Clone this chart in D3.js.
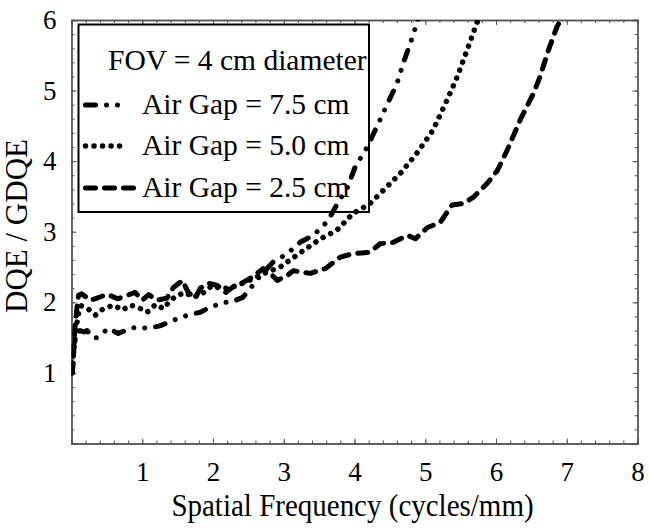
<!DOCTYPE html>
<html>
<head>
<meta charset="utf-8">
<script src="https://cdn.jsdelivr.net/npm/d3@7"></script>
<style>
  html, body { margin: 0; padding: 0; background: #fff; }
  svg { display: block; }
</style>
</head>
<body>
<svg id="chart" width="649" height="532"></svg>
<script>
// ---- data ----
const xTickLabels = ["1", "2", "3", "4", "5", "6", "7", "8"];
const yTickLabels = ["1", "2", "3", "4", "5", "6"];
const seriesNames = ["Air Gap = 7.5 cm", "Air Gap = 5.0 cm", "Air Gap = 2.5 cm"];
const legendTitle = "FOV = 4 cm diameter";
const xTitle = "Spatial Frequency (cycles/mm)";
const yTitle = "DQE / GDQE";

const freq75 = [0.01,0.03,0.05,0.08,0.12,0.18,0.22,0.3,0.36,0.52,0.66,0.83,0.94,1.09,1.26,1.5,1.65,1.82,1.96,2.15,2.25,2.42,2.53,2.67,2.85,3.05,3.23,3.42,3.62,3.76,3.9,4.01,4.18,4.32,4.46,4.6,4.69,4.82,4.91];
const dqe75  = [1.0,1.25,1.45,1.55,1.6,1.58,1.6,1.5,1.5,1.63,1.56,1.63,1.65,1.63,1.67,1.77,1.82,1.86,1.93,2.0,2.0,2.07,2.2,2.38,2.57,2.69,2.85,2.95,3.15,3.4,3.63,3.92,4.2,4.5,4.8,5.1,5.39,5.76,6.05];

const freq50 = [0.01,0.03,0.06,0.1,0.14,0.2,0.27,0.34,0.45,0.6,0.72,0.83,0.94,1.07,1.19,1.3,1.4,1.5,1.61,1.72,1.86,1.99,2.1,2.22,2.45,2.7,2.95,3.23,3.52,3.75,3.98,4.22,4.41,4.65,4.88,5.11,5.31,5.45,5.59,5.73,5.78];
const dqe50  = [1.0,1.3,1.6,1.85,1.95,1.93,1.88,1.82,1.91,1.96,1.89,1.96,1.93,1.86,1.97,1.91,2.03,2.1,2.14,2.07,2.13,2.24,2.2,2.2,2.28,2.4,2.5,2.7,2.9,3.02,3.26,3.4,3.59,3.83,4.11,4.44,4.87,5.19,5.57,5.96,6.05];

const freq25 = [0.01,0.03,0.05,0.08,0.1,0.14,0.2,0.27,0.36,0.44,0.52,0.65,0.79,0.9,1.0,1.09,1.21,1.35,1.44,1.57,1.65,1.75,1.82,1.94,2.06,2.18,2.27,2.42,2.56,2.71,2.81,2.91,3.05,3.14,3.23,3.38,3.59,3.8,3.98,4.22,4.36,4.55,4.75,4.86,5.03,5.21,5.38,5.54,5.68,5.88,6.02,6.16,6.34,6.53,6.62,6.74,6.86,6.93];
const dqe25  = [1.0,1.3,1.65,1.95,2.1,2.12,2.08,2.03,2.06,2.09,2.11,2.05,2.1,2.14,2.03,2.11,2.03,2.06,2.21,2.31,2.14,2.06,2.2,2.27,2.24,2.14,2.21,2.28,2.36,2.48,2.41,2.31,2.38,2.45,2.43,2.41,2.48,2.64,2.69,2.71,2.83,2.85,2.95,2.9,3.06,3.13,3.38,3.4,3.49,3.69,3.87,4.16,4.58,4.96,5.19,5.57,5.9,6.03];

// ---- layout ----
const FONT = "'Liberation Serif'";
const svg = d3.select("#chart");
const L = 71.5, R = 637.5, T = 20, B = 443.5;
const x = d3.scaleLinear().domain([0, 8]).range([L, R]);
const y = d3.scaleLinear().domain([0, 6]).range([B, T]);

const series = [
  { name: seriesNames[0], f: freq75, v: dqe75, dash: "10 11 0.01 11 0.01 11", w: 5 },
  { name: seriesNames[1], f: freq50, v: dqe50, dash: "0.01 8.5", w: 5.5 },
  { name: seriesNames[2], f: freq25, v: dqe25, dash: "10 9", w: 5 }
];

svg.append("defs").append("clipPath").attr("id", "clip")
  .append("rect").attr("x", L).attr("y", T).attr("width", R - L).attr("height", B - T);

// ---- axes (ticks inward on all sides) ----
const frameColor = "#555";
const majorX = d3.range(0, 9, 1), minorX = d3.range(0, 8.01, 0.2);
const majorY = d3.range(0, 7, 1), minorY = d3.range(0, 6.01, 0.2);

function styleAxis(g) {
  g.select(".domain").attr("stroke", frameColor).attr("stroke-width", 1.3);
  g.selectAll(".tick line").attr("stroke", frameColor).attr("stroke-width", 1);
}

svg.append("g").attr("transform", `translate(0,${B})`)
  .call(d3.axisBottom(x).tickValues(minorX).tickSize(-3).tickFormat("")).call(styleAxis);
svg.append("g").attr("transform", `translate(0,${T})`)
  .call(d3.axisTop(x).tickValues(minorX).tickSize(-3).tickFormat("")).call(styleAxis);
svg.append("g").attr("transform", `translate(${L},0)`)
  .call(d3.axisLeft(y).tickValues(minorY).tickSize(-3).tickFormat("")).call(styleAxis);
svg.append("g").attr("transform", `translate(${R},0)`)
  .call(d3.axisRight(y).tickValues(minorY).tickSize(-3).tickFormat("")).call(styleAxis);

const xAxisG = svg.append("g").attr("transform", `translate(0,${B})`)
  .call(d3.axisBottom(x).tickValues(majorX).tickSize(-5).tickPadding(18)
    .tickFormat(d => d === 0 ? "" : xTickLabels[d - 1]));
xAxisG.call(styleAxis);
xAxisG.attr("font-family", null);
xAxisG.selectAll(".tick text").attr("font-size", 27).style("font-family", FONT).attr("fill", "#000");

const yAxisG = svg.append("g").attr("transform", `translate(${L},0)`)
  .call(d3.axisLeft(y).tickValues(majorY).tickSize(-5).tickPadding(15)
    .tickFormat(d => d === 0 ? "" : yTickLabels[d - 1]));
yAxisG.call(styleAxis);
yAxisG.attr("font-family", null);
yAxisG.selectAll(".tick text").attr("font-size", 27).style("font-family", FONT).attr("fill", "#000");

svg.append("g").attr("transform", `translate(0,${T})`)
  .call(d3.axisTop(x).tickValues(majorX).tickSize(-5).tickFormat("")).call(styleAxis);
svg.append("g").attr("transform", `translate(${R},0)`)
  .call(d3.axisRight(y).tickValues(majorY).tickSize(-5).tickFormat("")).call(styleAxis);

// ---- axis titles ----
svg.append("text")
  .attr("transform", `translate(352.5,516) scale(1,1.1)`)
  .attr("text-anchor", "middle").attr("font-size", 29).style("font-family", FONT).text(xTitle);
svg.append("text")
  .attr("transform", `translate(27,226) rotate(-90)`)
  .attr("text-anchor", "middle").attr("font-size", 31).style("font-family", FONT).text(yTitle);

// ---- lines ----
const line = d3.line().x(d => x(d[0])).y(d => y(d[1]));
const plot = svg.append("g").attr("clip-path", "url(#clip)");
series.forEach(s => {
  plot.append("path")
    .datum(s.f.map((f, i) => [f, s.v[i]]))
    .attr("d", line)
    .attr("fill", "none")
    .attr("stroke", "#000")
    .attr("stroke-width", s.w)
    .attr("stroke-linecap", "round")
    .attr("stroke-linejoin", "round")
    .attr("stroke-dasharray", s.dash);
});

// ---- legend ----
const lg = svg.append("g");
lg.append("rect").attr("x", 78.5).attr("y", 24.5).attr("width", 290.5).attr("height", 187.5)
  .attr("fill", "none").attr("stroke", "#000").attr("stroke-width", 2);
lg.append("text").attr("x", 108).attr("y", 70).attr("font-size", 29.5).style("font-family", FONT).text(legendTitle);
const legendRows = [
  { s: series[0], y: 105, x2: 125 },
  { s: series[1], y: 146, x2: 125 },
  { s: series[2], y: 188, x2: 137 }
];
legendRows.forEach(r => {
  lg.append("line").attr("x1", 85.5).attr("x2", r.x2).attr("y1", r.y).attr("y2", r.y)
    .attr("stroke", "#000").attr("stroke-width", r.s.w)
    .attr("stroke-linecap", "round").attr("stroke-dasharray", r.s.dash);
  lg.append("text").attr("x", 142).attr("y", r.y + 9).attr("font-size", 29.5).style("font-family", FONT).text(r.s.name);
});
</script>
</body>
</html>
